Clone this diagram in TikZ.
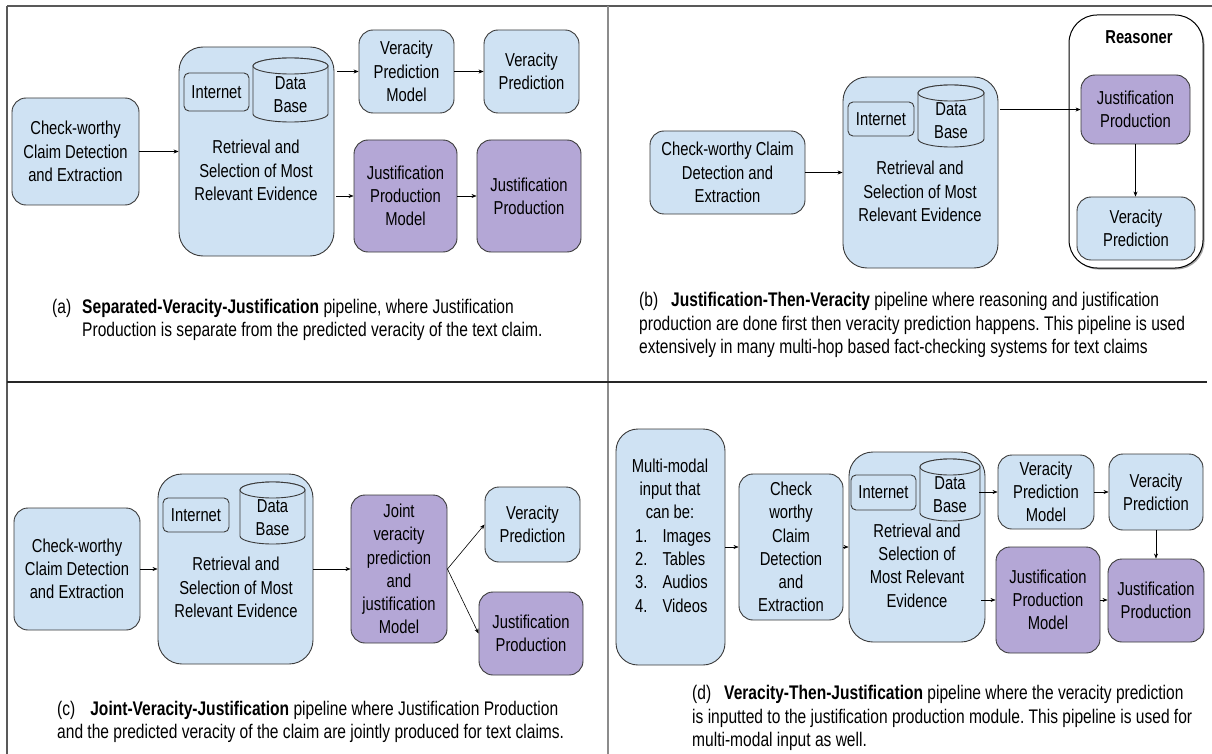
\documentclass[tikz,border=0pt]{standalone}
\usepackage{fontspec}
\setmainfont{Liberation Sans}[FakeStretch=0.79]
\usetikzlibrary{arrows.meta,shadows}
\frenchspacing
\definecolor{lblue}{HTML}{CFE2F3}
\definecolor{lpurple}{HTML}{B4A7D6}
\definecolor{edgegray}{HTML}{3A3A3A}
\newcommand\boxfont{\fontsize{18.7}{23.3}\selectfont}
\newcommand\capfont{\fontsize{19.7}{23.3}\selectfont}
\newcommand\DBcyl[5]{%
  \pgfmathsetmacro\dbcx{(#2+#4)/2}%
  \pgfmathsetmacro\dbrx{(#4-#2)/2}%
  \pgfmathsetmacro\dbty{#3+8}%
  \pgfmathsetmacro\dbby{#5-8}%
  \pgfmathsetmacro\dbmy{(#3+#5)/2+5}%
  \draw[cyl] (#2,\dbty) -- (#2,\dbby) arc[start angle=180,end angle=0,x radius=\dbrx,y radius=8] -- (#4,\dbty) arc[start angle=0,end angle=-180,x radius=\dbrx,y radius=8] -- cycle;
  \draw[cyl] (\dbcx,\dbty) ellipse[x radius=\dbrx,y radius=8];
  \node[txt] (#1) at (\dbcx,\dbmy) {Data\\Base};
}
\tikzset{
  bbox/.style={draw=edgegray, line width=0.9pt, fill=lblue, rounded corners=14pt, align=center, inner sep=0pt, font=\boxfont},
  pbox/.style={bbox, fill=lpurple},
  ibox/.style={bbox, rounded corners=5pt},
  rbox/.style={draw=black, line width=1pt, fill=white, rounded corners=28pt, drop shadow={shadow xshift=1.5pt,shadow yshift=-1.5pt,opacity=0.35,fill=black}},
  cyl/.style={draw=edgegray, line width=0.9pt, fill=lblue},
  txt/.style={align=center, inner sep=0pt, font=\boxfont},
  captxt/.style={align=left, inner sep=0pt, font=\capfont, anchor=west},
  arr/.style={-{Stealth[length=5pt,width=4pt]}, line width=0.6pt, black},
  divline/.style={line width=1.2pt, color=black!65},
}
\begin{document}
\begin{tikzpicture}[x=1pt,y=-1pt]
\useasboundingbox (0,0) rectangle (1212,754);
% frame lines
\draw[divline] (7,6) -- (1212,6);
\draw[divline] (7,6) -- (7,754);
\draw[line width=2pt, color=black!45] (607.5,6) -- (607.5,754);
\draw[line width=1.3pt, color=black!85] (7,382) -- (1207,382);

% ---------------- panel (a)
\node[bbox, minimum width=127pt, minimum height=107pt] (a1) at (75.5,151.5) {Check-worthy\\Claim Detection\\and Extraction};
\node[bbox, rounded corners=24pt, minimum width=155pt, minimum height=209pt] (a2) at (256.5,151.5) {};
\node[txt] (a2t) at (256,170.5) {Retrieval and\\Selection of Most\\Relevant Evidence};
\node[ibox, minimum width=65pt, minimum height=38pt] (a3) at (216.5,92) {Internet};
\DBcyl{a4}{253}{58}{328}{122}
\node[bbox, minimum width=95pt, minimum height=83pt] (a5) at (406.5,71.5) {Veracity\\Prediction\\Model};
\node[bbox, minimum width=95pt, minimum height=83pt] (a6) at (531.5,71.5) {Veracity\\Prediction};
\node[pbox, minimum width=103pt, minimum height=112pt] (a7) at (405.5,196) {Justification\\Production\\Model};
\node[pbox, minimum width=104pt, minimum height=112pt] (a8) at (529,196) {Justification\\Production};
\coordinate (a2o1) at (337,71.5);
\coordinate (a2o2) at (336,196);
\draw[arr] (a1.east) -- (a2.west);
\draw[arr] (a2o1) -- (a5.west);
\draw[arr] (a5.east) -- (a6.west);
\draw[arr] (a2o2) -- (a7.west);
\draw[arr] (a7.east) -- (a8.west);
\node[captxt] (capa) at (52,320) {\begin{tabular}{@{}l@{\hspace{11pt}}l@{}}(a)&\textbf{Separated-Veracity-Justification} pipeline, where Justification\\&Production is separate from the predicted veracity of the text claim.\end{tabular}};

% ---------------- panel (b)
\node[bbox, minimum width=155pt, minimum height=83pt] (b1) at (727.5,172.5) {Check-worthy Claim\\Detection and\\Extraction};
\node[bbox, rounded corners=24pt, minimum width=155pt, minimum height=191pt] (b2) at (920.5,172.5) {};
\node[txt] (b2t) at (920,191.5) {Retrieval and\\Selection of Most\\Relevant Evidence};
\node[ibox, minimum width=66pt, minimum height=34pt] (b3) at (881,119) {Internet};
\DBcyl{b4}{918}{85}{984}{147}
\node[rbox, minimum width=134pt, minimum height=253pt] (b5) at (1136,141.5) {};
\node[txt, font=\boxfont\bfseries] (b5t) at (1139,37) {Reasoner};
\node[pbox, minimum width=109pt, minimum height=69pt] (b6) at (1135.5,109.5) {Justification\\Production};
\node[bbox, minimum width=118pt, minimum height=63pt] (b7) at (1136,228.5) {Veracity\\Prediction};
\coordinate (b2o) at (1000,109.5);
\draw[arr] (b1.east) -- (b2.west);
\draw[arr] (b2o) -- (b6.west);
\draw[arr] (b6.south) -- (b6.south |- b7.north);
\node[captxt] (capb) at (639,325) {(b)\hspace{13pt}\textbf{Justification-Then-Veracity} pipeline where reasoning and justification\\production are done first then veracity prediction happens. This pipeline is used\\extensively in many multi-hop based fact-checking systems for text claims};

% ---------------- panel (c)
\node[bbox, minimum width=126pt, minimum height=122pt] (c1) at (77,569) {Check-worthy\\Claim Detection\\and Extraction};
\node[bbox, rounded corners=24pt, minimum width=155pt, minimum height=190pt] (c2) at (235.5,569) {};
\node[txt] (c2t) at (236,587.5) {Retrieval and\\Selection of Most\\Relevant Evidence};
\node[ibox, minimum width=66pt, minimum height=34pt] (c3) at (196,515) {Internet};
\DBcyl{c4}{240}{482}{305}{544}
\node[pbox, minimum width=96pt, minimum height=148pt] (c5) at (399,569) {Joint\\veracity\\prediction\\and\\justification\\Model};
\node[bbox, minimum width=95pt, minimum height=75pt] (c6) at (532.5,524.5) {Veracity\\Prediction};
\node[pbox, minimum width=104pt, minimum height=83pt] (c7) at (531,633.5) {Justification\\Production};
\draw[arr] (c1.east) -- (c2.west);
\draw[arr] (c2.east) -- (c5.west);
\draw[arr] (c5.east) -- (c6.west);
\draw[arr] (c5.east) -- (c7.west);
\node[captxt] (capc) at (57,722) {(c)\hspace{15pt}\textbf{Joint-Veracity-Justification} pipeline where Justification Production\\and the predicted veracity of the claim are jointly produced for text claims.};

% ---------------- panel (d)
\node[bbox, rounded corners=22pt, minimum width=109pt, minimum height=236pt] (d1) at (670.5,547) {};
\node[txt] (d1t) at (670,489) {Multi-modal\\input that\\can be:};
\node[txt, anchor=west] (d1l) at (635,572.5) {\begin{tabular}{@{}l@{\hspace{15pt}}l@{}}1.&Images\\2.&Tables\\3.&Audios\\4.&Videos\end{tabular}};
\node[bbox, minimum width=104pt, minimum height=146pt] (d2) at (791,547) {Check\\worthy\\Claim\\Detection\\and\\Extraction};
\node[bbox, rounded corners=24pt, minimum width=136pt, minimum height=190pt] (d3) at (917,547) {};
\node[txt] (d3t) at (917,565.5) {Retrieval and\\Selection of\\Most Relevant\\Evidence};
\node[ibox, minimum width=65pt, minimum height=35pt] (d4) at (883.5,492.5) {Internet};
\DBcyl{d5}{920}{459}{980}{521}
\node[bbox, minimum width=96pt, minimum height=74pt] (d6) at (1046,492) {Veracity\\Prediction\\Model};
\node[bbox, minimum width=94pt, minimum height=76pt] (d7) at (1156,492) {Veracity\\Prediction};
\node[pbox, minimum width=104pt, minimum height=106pt] (d8) at (1048,600) {Justification\\Production\\Model};
\node[pbox, minimum width=96pt, minimum height=83pt] (d9) at (1156,600.5) {Justification\\Production};
\coordinate (d3o1) at (979,492);
\coordinate (d3o2) at (981,600);
\draw[arr] (d1.east) -- (d2.west);
\draw[arr] (d2.east) -- (d3.west);
\draw[arr] (d3o1) -- (d6.west);
\draw[arr] (d6.east) -- (d7.west);
\draw[arr] (d3o2) -- (d8.west);
\draw[arr] (d8.east) -- (d8.east -| d9.west);
\draw[arr] (d7.south) -- (d9.north);
\node[captxt] (capd) at (692,718) {(d)\hspace{13pt}\textbf{Veracity-Then-Justification} pipeline where the veracity prediction\\is inputted to the justification production module. This pipeline is used for\\multi-modal input as well.};
\end{tikzpicture}
\end{document}
